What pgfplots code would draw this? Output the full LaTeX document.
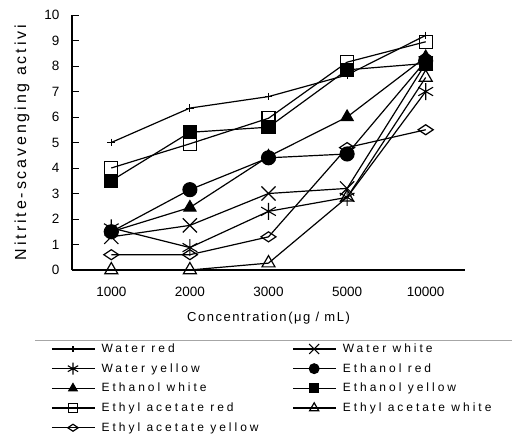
\documentclass[border=0pt]{standalone}
\usepackage{pgfplots}
\pgfplotsset{compat=1.18}
\usepackage{fontspec}
\setmainfont{Liberation Sans}
\newfontfamily\lsfont[LetterSpace=12]{Liberation Sans}
\newfontfamily\ylfont[LetterSpace=18]{Liberation Sans}
\newfontfamily\lgfont[LetterSpace=25]{Liberation Sans}
\newcommand{\lc}[1]{\makebox[190pt][l]{#1}}
\begin{document}
\begin{tikzpicture}
\begin{axis}[
  scale only axis,
  width=393pt, height=255pt,
  xmin=0.5, xmax=5.5, ymin=0, ymax=10,
  axis x line*=bottom, axis y line*=left,
  axis line style={line width=1.2pt},
  xtick={1,2,3,4,5},
  xticklabels={1000,2000,3000,5000,10000},
  x tick style={draw=none},
  extra x ticks={1.5,2.5,3.5,4.5,5.5},
  extra x tick labels={},
  extra x tick style={major tick length=7pt, tick style={line width=1pt, draw=black}, tick align=inside},
  ytick={0,1,...,10},
  y tick style={line width=1pt, black},
  major tick length=7pt,
  tick align=inside,
  /pgf/number format/assume math mode=true,
  ticklabel style={font=\fontsize{13.5}{15}\selectfont},
  xticklabel style={yshift=-14pt},
  yticklabel style={xshift=-9pt},
  xlabel={\lsfont Concentration(μg / mL)},
  xlabel style={font=\fontsize{13}{15}\selectfont, at={(axis description cs:0.5,-0.19)}, anchor=center},
  ylabel={\ylfont Nitrite-scavenging activi},
  ylabel style={font=\fontsize{16}{18}\selectfont, at={(axis description cs:-0.127,0.5)}, anchor=center},
  every axis plot/.append style={black, line width=1.2pt, mark options={solid, line width=1.1pt}},
  legend columns=2,
  legend style={at={(axis description cs:-0.053,-0.285)}, anchor=north west, draw=none, fill=none,
    font=\fontsize{12}{13}\selectfont\lgfont, inner sep=0pt, row sep=7.5pt,
    nodes={inner sep=1pt},
    /tikz/every odd column/.append style={column sep=5pt}},
  legend cell align=left,
  legend image code/.code={\draw[mark repeat=2,mark phase=2, every mark/.append style={scale=0.7}] plot coordinates {(0pt,0pt) (21pt,0pt) (43pt,0pt)};},
  clip=false,
]
\addplot[mark=+, mark size=3.8pt] coordinates {(1,5.0) (2,6.35) (3,6.8) (4,7.65) (5,9.2)};
\addlegendentry{\lc{Water red}}
\addplot[mark=x, mark size=10pt] coordinates {(1,1.3) (2,1.75) (3,3.0) (4,3.2) (5,8.1)};
\addlegendentry{Water white}
\addplot[mark=asterisk, mark size=8.5pt] coordinates {(1,1.65) (2,0.88) (3,2.3) (4,2.85) (5,7.0)};
\addlegendentry{\lc{Water yellow}}
\addplot[mark=*, mark size=7pt] coordinates {(1,1.5) (2,3.15) (3,4.4) (4,4.55) (5,8.2)};
\addlegendentry{Ethanol red}
\addplot[mark=triangle*, mark size=7pt] coordinates {(1,1.5) (2,2.45) (3,4.45) (4,6.0) (5,8.35)};
\addlegendentry{\lc{Ethanol white}}
\addplot[mark=square*, mark size=6.5pt] coordinates {(1,3.5) (2,5.4) (3,5.6) (4,7.85) (5,8.1)};
\addlegendentry{Ethanol yellow}
\addplot[mark=square, mark size=6.5pt, mark options={fill=white}] coordinates {(1,4.0) (2,4.95) (3,5.95) (4,8.15) (5,8.95)};
\addlegendentry{\lc{Ethyl acetate red}}
\addplot[mark=triangle, mark size=7.5pt, mark options={fill=white}] coordinates {(1,0) (2,0) (3,0.27) (4,2.85) (5,7.55)};
\addlegendentry{Ethyl acetate white}
\addplot[mark=diamond, mark size=5pt, mark options={fill=white, xscale=2}] coordinates {(1,0.6) (2,0.6) (3,1.3) (4,4.8) (5,5.5)};
\addlegendentry{\lc{Ethyl acetate yellow}}
\end{axis}
\draw[gray!70, line width=0.8pt] (-37pt,-70pt) -- (440pt,-70pt);
\pgfresetboundingbox
\path[use as bounding box] (-72pt,-169pt) rectangle (440pt,270pt);
\end{tikzpicture}
\end{document}
